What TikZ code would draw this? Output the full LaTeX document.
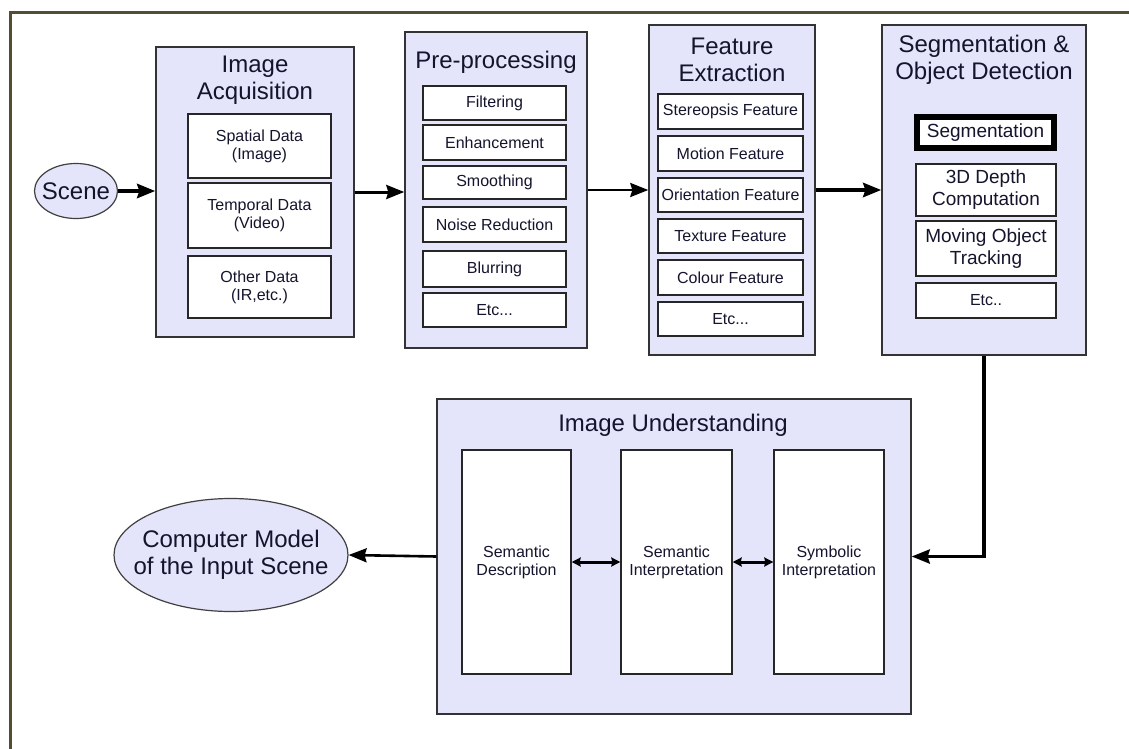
\documentclass[tikz,border=0pt]{standalone}
\usepackage{fontspec}
\setmainfont{Liberation Sans}
\usetikzlibrary{arrows.meta,shapes.geometric}
\definecolor{lav}{RGB}{228,228,250}
\definecolor{frameol}{RGB}{82,77,52}
\definecolor{ink}{RGB}{20,20,45}
\tikzset{
  stage/.style={draw=black!80,fill=lav,line width=0.7pt,inner sep=0pt},
  item/.style={draw=black!85,fill=white,line width=0.7pt,inner sep=0pt,align=center,text=ink,font=\fontsize{8}{9}\selectfont},
  bigitem/.style={item,font=\fontsize{9.5}{11}\selectfont},
  head/.style={align=center,text=ink,font=\fontsize{12}{13.5}\selectfont},
  bubble/.style={ellipse,draw=black!75,fill=lav,line width=0.6pt,inner ysep=0pt,inner xsep=-4pt,align=center,text=ink,font=\fontsize{12}{13.5}\selectfont},
  flow/.style={-{Stealth[length=9pt,width=7pt,inset=1pt]},line width=1.5pt},
  twoway/.style={{Stealth[length=4.5pt,width=4.5pt,inset=0.5pt]}-{Stealth[length=4.5pt,width=4.5pt,inset=0.5pt]},line width=1.5pt}
}
\begin{document}
\begin{tikzpicture}[x=0.5pt,y=-0.5pt,line cap=butt]
\useasboundingbox (0,0) rectangle (1129,749);
\draw[frameol,line width=1.5pt] (1129,13) -- (10,13) -- (10,749);

% input
\node[bubble,minimum width=41.5pt,minimum height=27.5pt] (scene) at (76,191) {Scene};

% acquisition
\node[stage,minimum width=99pt,minimum height=145pt] (ia) at (255,192) {};
\node[head] (iat) at (255,80) {Image\\Acquisition};
\node[item,minimum width=71.5pt,minimum height=32pt] (ia1) at (259.5,146) {Spatial Data\\(Image)};
\node[item,minimum width=71.5pt,minimum height=32.5pt] (ia2) at (259.5,215.5) {Temporal Data\\(Video)};
\node[item,minimum width=71.5pt,minimum height=31pt] (ia3) at (259.5,287) {Other Data\\(IR,etc.)};

% pre-processing
\node[stage,minimum width=91pt,minimum height=158pt] (pp) at (496,190) {};
\node[head] (ppt) at (496,62) {Pre-processing};
\node[item,minimum width=71.5pt,minimum height=17pt] (pp1) at (494.5,103) {Filtering};
\node[item,minimum width=71.5pt,minimum height=17.5pt] (pp2) at (494.5,142.5) {Enhancement};
\node[item,minimum width=71.5pt,minimum height=16.5pt] (pp3) at (494.5,182.5) {Smoothing};
\node[item,minimum width=71.5pt,minimum height=17.5pt] (pp4) at (494.5,224.5) {Noise Reduction};
\node[item,minimum width=71.5pt,minimum height=18pt] (pp5) at (494.5,269) {Blurring};
\node[item,minimum width=71.5pt,minimum height=17pt] (pp6) at (494.5,310) {Etc...};

% features
\node[stage,minimum width=83pt,minimum height=165pt] (fe) at (732,190) {};
\node[head] (fet) at (732,60) {Feature\\Extraction};
\node[item,minimum width=72.5pt,minimum height=17.5pt] (fe1) at (730.5,111.5) {Stereopsis Feature};
\node[item,minimum width=72.5pt,minimum height=17.5pt] (fe2) at (730.5,153.5) {Motion Feature};
\node[item,minimum width=72.5pt,minimum height=17pt] (fe3) at (730.5,195) {Orientation Feature};
\node[item,minimum width=72.5pt,minimum height=17pt] (fe4) at (730.5,236) {Texture Feature};
\node[item,minimum width=72.5pt,minimum height=17.5pt] (fe5) at (730.5,277.5) {Colour Feature};
\node[item,minimum width=72.5pt,minimum height=17pt] (fe6) at (730.5,319) {Etc...};

% segmentation
\node[stage,minimum width=102pt,minimum height=165pt] (seg) at (984,190) {};
\node[head] (segt) at (984,60) {Segmentation \&\\Object Detection};
\node[bigitem,line width=3pt,draw=black,minimum width=68.5pt,minimum height=15.5pt] (sg1) at (985.5,132.5) {Segmentation};
\node[bigitem,minimum width=70pt,minimum height=26pt] (sg2) at (986,190) {3D Depth\\Computation};
\node[bigitem,minimum width=70pt,minimum height=27.5pt] (sg3) at (986,248.5) {Moving Object\\Tracking};
\node[item,minimum width=70pt,minimum height=17.5pt] (sg4) at (986,300.5) {Etc..};

% understanding
\node[stage,minimum width=237pt,minimum height=157.5pt] (iu) at (674,556.5) {};
\node[head] (iut) at (673,425) {Image Understanding};
\node[item,minimum width=54.5pt,minimum height=112pt] (sd) at (516.5,562) {Semantic\\Description};
\node[item,minimum width=55.5pt,minimum height=112pt] (si) at (676.5,562) {Semantic\\Interpretation};
\node[item,minimum width=55pt,minimum height=112pt] (sy) at (829,562) {Symbolic\\Interpretation};

% output
\node[bubble,inner xsep=-7.5pt,minimum width=117pt,minimum height=56.5pt] (cm) at (231,555) {Computer Model\\of the Input Scene};

\draw[flow,line width=2pt] (scene.east) -- (scene.east -| ia.west);
\draw[flow] (ia.east) -- (ia.east -| pp.west);
\draw[flow,line width=1.3pt] (pp.east) -- (pp.east -| fe.west);
\draw[flow,line width=2.2pt] (fe.east) -- (fe.east -| seg.west);
\draw[flow,line width=1.7pt] (seg.south) |- (iu.east);
\draw[flow,line width=1.3pt] (iu.west) -- (cm.east);
\draw[twoway] (sd) -- (si);
\draw[twoway] (si) -- (sy);
\end{tikzpicture}
\end{document}
